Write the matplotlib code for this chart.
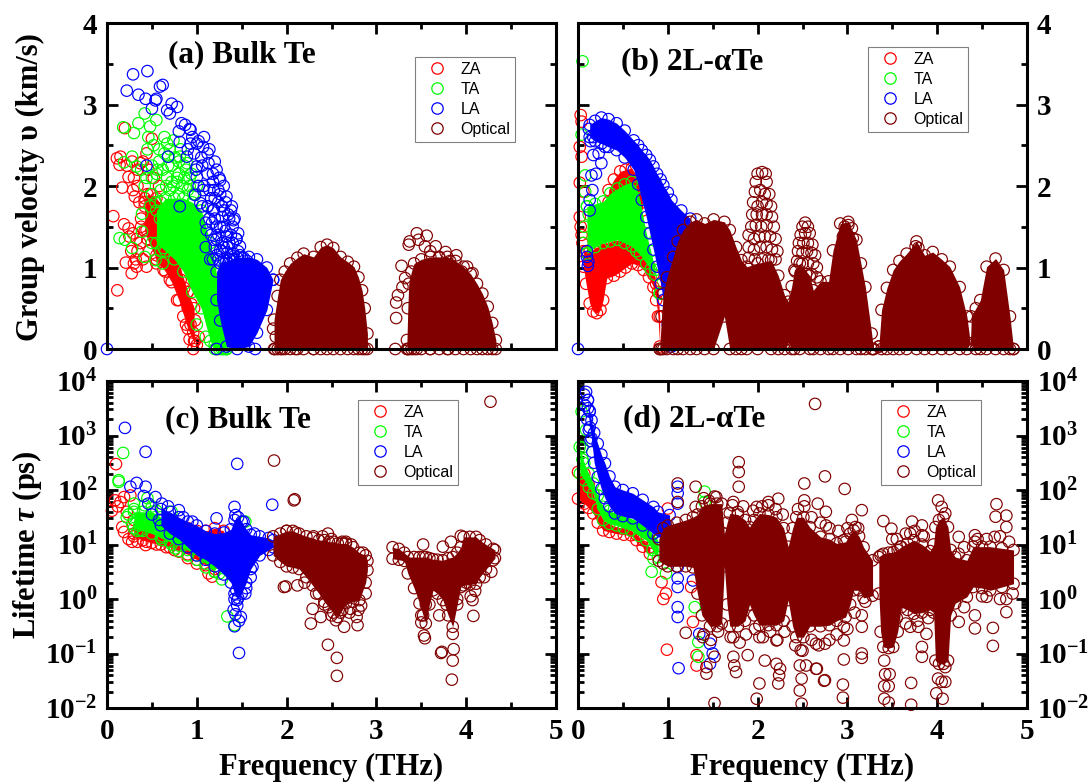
import numpy as np
import matplotlib
matplotlib.use("Agg")
import matplotlib.pyplot as plt
from matplotlib.lines import Line2D

plt.rcParams['font.family'] = ['Liberation Serif', 'DejaVu Serif']
plt.rcParams['font.weight'] = 'bold'
plt.rcParams['mathtext.fontset'] = 'custom'
plt.rcParams['mathtext.bf'] = 'Liberation Serif:bold'
plt.rcParams['mathtext.bfit'] = 'Liberation Serif:italic:bold'
plt.rcParams['mathtext.rm'] = 'Liberation Serif:bold'

RED, GREEN, BLUE, MAROON = '#ff0000', '#00ff00', '#0000ff', '#800000'
W, H = 1089, 782

# ---- panel (a) group velocity, bulk Te: loose circles ----
a_za_f = [.115, .275, .21, .07, .19, .24, .29, .11, .15, .14, .2, .17, .24, .29, .31, .5, .44, .37, .33, .44, .55, .63, .37, .44,
          .3, .34, .4, .46, .52, .58, .36, .42, .48, .54, .6, .66, .34, .4, .47, .55, .62, .7, .78, .85, .9, .93, .96, .98, 1.0, 1.22, .96,
          .27, .33, .38, .22, .28, .34, .3, .38, .25, .32, .42, .9, .94, .88, .98, 1.02, .92, .86, .82, .76]
a_za_v = [.72, .93, 1.06, 1.63, 1.53, 1.48, 1.42, 2.34, 2.36, 2.26, 2.71, 1.98, 2.11, 1.95, 1.87, 2.58, 2.4, 2.28, 1.01, 1.01, 1.05, .97, 1.3, 1.46,
          2.1, 2.0, 2.3, 2.2, 2.1, 2.0, 1.8, 1.85, 1.9, 1.8, 1.7, 1.6, 1.2, 1.1, 1.2, 1.15, 1.1, .85, .6, .4, .5, .3, .2, .1, .05, 0, 0,
          1.2, 1.35, 1.5, 2.25, 2.3, 2.2, 1.05, 1.6, 1.38, 1.1, 1.75, .7, .55, .3, .35, .15, .12, .75, .85, .95]
a_za_band_f = [.42, .45, .55, .65, .72, .8, .9, .97]
a_za_band_lo = [1.45, 1.35, 1.1, .95, .82, .6, .25, .1]
a_za_band_hi = [1.8, 1.9, 1.85, 1.7, 1.35, 1.05, .7, .5]

a_ta_f = [.18, .3, .35, .42, .48, .55, .19, .28, .33, .68, .14, .2, .28, .39, .39, .5, .59, .63, .42, .54, .67, .74, .81, .89,
          .55, .67, .78, .45, .5, .58, .64, .72, .8, .86, .92, .6, .7, .8, .42, .5, .6, .62, 1.0, 1.1, 1.2, 1.28, 1.33,
          .38, .46, .52, .58, .64, .7, .76, .82, .88, .94, 1.0, .44, .5, .56, .62, .68, .74, .8, .86, .92, .98, .48, .54, .6, .66, .72, .78, .84, .9, .96]
a_ta_v = [2.72, 2.65, 2.77, 2.89, 2.73, 2.81, 2.29, 2.36, 2.24, 2.36, 1.36, 1.34, 1.24, 1.66, 1.44, 1.3, 1.6, 1.24, 1.13, 1.09, 2.52, 2.56, 2.36, 2.28,
          2.15, 2.1, 2.05, 2.45, 2.25, 2.3, 2.4, 2.25, 2.15, 2.1, 2.0, 1.95, 1.95, 1.9, 2.0, 1.9, 1.2, 1.05, .3, .15, .05, 0, 0,
          2.2, 2.6, 2.5, 2.45, 2.6, 2.45, 2.35, 2.45, 2.2, 2.15, 2.0, 2.1, 2.1, 2.2, 2.2, 2.25, 2.0, 2.3, 2.25, 2.1, 1.9, 1.75, 1.8, 1.8, 2.0, 2.05, 2.1, 2.0, 1.95, 1.9]
a_ta_band_f = [.55, .65, .75, .85, .95, 1.05, 1.15, 1.2, 1.25, 1.3, 1.33]
a_ta_band_lo = [1.3, 1.2, 1.1, .95, .7, .5, .1, 0, 0, 0, 0]
a_ta_band_hi = [1.7, 1.85, 1.85, 1.85, 1.8, 1.7, 1.3, 1.05, .7, .3, 0]

a_la_f = [0, .29, .45, .22, .35, .43, .54, .59, .62, .55, .5, .67, .72, .78, .7, .83, .87, .93, .8, .81, .93, 1.0, 1.07, .89, 1.0, 1.13, 1.22, 1.26, 1.0, 1.07,
          1.19, 1.33, .98, 1.04, 1.39, 1.19, 1.28, 1.41, 1.46, 1.11, 1.22, 1.19, 1.33, 1.48, 1.41, 1.26, .44, .68, .81, 1.22, 1.65,
          .9, .97, 1.05, 1.12, 1.18, 1.25, 1.3, 1.12, 1.16, 1.28, 1.35, 1.4, 1.1, 1.17, 1.24, 1.3, 1.36, 1.44, 1.2, 1.3, 1.38, 1.5, 1.1, 1.15, 1.35,
          .95, 1.02, 1.08, 1.14, 1.2, .92, .99, 1.06, 1.12, 1.18, 1.24, 1.02, 1.08, 1.14, 1.2, 1.26, 1.32, 1.38, 1.06, 1.12, 1.18, 1.24, 1.3, 1.36, 1.42, 1.14, 1.2, 1.26, 1.32, 1.38, 1.44,
          1.16, 1.22, 1.28, 1.34, 1.4, 1.46, 1.22, 1.28, 1.34, 1.4, 1.18, 1.24, 1.3, 1.36, 1.42, 1.48, 1.52, 1.56]
a_la_v = [0, 3.37, 3.41, 3.17, 3.12, 3.07, 3.05, 3.22, 3.24, 3.07, 2.95, 2.93, 3.01, 2.97, 2.89, 2.77, 2.75, 2.69, 2.67, 2.54, 2.52, 2.52, 2.48, 2.36, 2.24, 2.28, 2.2, 2.07, 2.11, 1.95,
          1.95, 1.87, 1.89, 1.79, 1.75, 1.71, 1.62, 1.58, 1.42, 1.46, 1.5, 1.34, 1.38, 1.26, 1.17, 1.21, 2.25, 2.36, 1.75, 0, 0,
          2.45, 2.4, 2.35, 2.4, 2.15, 2.1, 2.0, 1.75, 1.85, 1.75, 1.65, 1.5, 1.55, 1.55, 1.4, 1.5, 1.3, 1.35, 1.25, 1.25, 1.15, 1.12, 1.25, 1.1, 1.05,
          2.6, 2.55, 2.6, 2.45, 2.3, 2.7, 2.2, 2.25, 2.15, 2.05, 1.95, 2.0, 2.0, 1.95, 1.85, 1.9, 1.8, 1.7, 1.75, 1.75, 1.7, 1.8, 1.7, 1.6, 1.6, 1.6, 1.6, 1.5, 1.45, 1.4, 1.35,
          1.4, 1.35, 1.3, 1.25, 1.3, 1.2, 1.15, 1.2, 1.18, 1.1, 1.1, 1.1, 1.1, 1.1, 1.1, 1.15, 1.12, 1.08]
a_la_band_f = [1.22, 1.26, 1.33, 1.45, 1.58, 1.67, 1.78, 1.85]
a_la_band_lo = [.6, .35, .03, 0, .03, .2, .48, .85]
a_la_band_hi = [.95, 1.05, 1.08, 1.12, 1.13, 1.1, 1.0, .85]

a_opt_f = [3.21, 3.22, 3.22, 3.24, 3.29, 3.32, 3.28, 3.36, 3.37, 3.45, 3.47, 3.56, 3.54, 3.66, 3.77, 3.89, 4.01, 4.07, 1.87, 3.45, 3.6, 3.8, 1.95, 2.1, 2.3, 1.85, 1.88, 3.6, 3.7, 3.82, 3.95]
a_opt_v = [0, .38, .57, .66, .76, .87, 1.02, 1.28, 1.32, 1.42, 1.34, 1.39, 1.26, 1.26, 1.19, 1.15, 1.01, .93, 0, 0, 0, 0, 0, 0, 0, .25, .15, 1.2, 1.12, 1.08, .95]
a_opt1_f = [1.86, 1.9, 1.93, 1.98, 2.04, 2.12, 2.19, 2.3, 2.38, 2.45, 2.52, 2.6, 2.68, 2.75, 2.8, 2.84, 2.87, 2.9]
a_opt1_hi = [.36, .65, .85, .95, 1.05, 1.12, 1.17, 1.13, 1.25, 1.28, 1.24, 1.13, 1.07, 1.01, .88, .72, .5, .19]
a_opt2_f = [3.34, 3.35, 3.36, 3.39, 3.42, 3.5, 3.6, 3.7, 3.79, 3.88, 3.97, 4.05, 4.12, 4.18, 4.24, 4.29, 4.33]
a_opt2_hi = [.11, .5, .8, .95, 1.05, 1.1, 1.13, 1.13, 1.13, 1.08, 1.01, .92, .8, .68, .52, .32, .11]

# ---- panel (b) group velocity, 2L-aTe ----
b_za_f = [.03, .04, .02, .04, .02, .06, .02, .03, .04, .05]
b_za_v = [2.87, 2.79, 2.48, 2.36, 2.04, 1.93, 1.62, 1.5, 1.4, 1.3]
b_za_up_f = [.34, .4, .47, .53, .6, .67, .72]
b_za_up_lo = [1.8, 1.85, 1.95, 1.98, 1.98, 1.8, 1.7]
b_za_up_hi = [1.95, 2.08, 2.18, 2.2, 2.22, 2.07, 1.8]
b_za_dn_f = [.06, .09, .13, .17, .21, .25, .28, .32, .4, .47, .53, .6, .67, .73, .79, .84, .87, .89, .91]
b_za_dn_lo = [1.01, .8, .56, .46, .44, .48, .6, .87, .9, .95, 1.0, 1.05, 1.03, .97, .88, .76, .6, .4, .03]
b_za_dn_hi = [1.2, 1.2, 1.2, 1.22, 1.25, 1.28, 1.3, 1.3, 1.33, 1.34, 1.3, 1.26, 1.2, 1.12, 1.02, .91, .8, .7, .4]

b_ta_f = [.05, .04, .08, .08, .1, .12, .07, .06]
b_ta_v = [3.53, 2.63, 2.13, 1.93, 1.75, 1.65, 1.5, 1.3]
b_ta_band_f = [.1, .19, .28, .36, .44, .52, .6, .65, .69, .76, .81, .86, .91]
b_ta_band_lo = [1.17, 1.25, 1.3, 1.32, 1.34, 1.3, 1.26, 1.2, 1.16, 1.05, .98, .91, .68]
b_ta_band_hi = [1.75, 1.78, 1.81, 1.91, 1.97, 2.02, 2.05, 1.98, 1.83, 1.42, 1.2, .97, .68]

b_la_f = [0, .115, .1, .11, .13, .13, .16, .2, .15, .26, .17, .23, .17, .3, .12, .14, .1]
b_la_v = [0, 1.07, 1.13, 1.02, 1.7, 1.83, 1.95, 2.15, 2.13, 2.28, 2.38, 2.4, 2.6, 2.48, 2.7, 2.55, 1.2]
b_la_band_f = [.13, .19, .26, .34, .43, .52, .62, .67, .71, .76, .8, .84, .88, .92, .95, 1.0, 1.04, 1.15, 1.25]
b_la_band_lo = [2.6, 2.55, 2.52, 2.48, 2.44, 2.35, 2.2, 2.02, 1.83, 1.62, 1.42, 1.22, 1.01, .8, .6, .3, .03, .8, 1.2]
b_la_band_hi = [2.75, 2.8, 2.84, 2.82, 2.77, 2.68, 2.56, 2.5, 2.44, 2.38, 2.32, 2.24, 2.15, 2.08, 2.01, 1.92, 1.83, 1.7, 1.6]

b_opt_f = [2.0, 2.05, 2.09, 1.98, 2.1, 1.97, 2.03, 2.08, 2.13, 1.95, 2.0, 2.05, 2.1, 2.15, 1.94, 1.99, 2.05, 2.1, 2.16, 1.93, 1.98, 2.04, 2.1, 2.18,
           1.9, 1.96, 2.02, 2.08, 2.14, 2.2, 1.9, 1.96, 2.03, 2.1, 2.16, 2.22, 1.9, 1.97, 2.05, 2.12, 2.2,
           2.53, 2.5, 2.56, 2.48, 2.53, 2.58, 2.46, 2.51, 2.56, 2.61, 2.45, 2.5, 2.55, 2.6, 2.64, 2.44, 2.5, 2.56, 2.62, 2.66, 2.42, 2.48, 2.54, 2.6, 2.66,
           2.97, 3.01, 3.05, 2.95, 3.0, 3.06, 3.76, 3.79]
b_opt_v = [2.15, 2.17, 2.15, 2.05, 2.05, 1.93, 1.95, 1.9, 1.9, 1.8, 1.75, 1.8, 1.78, 1.75, 1.65, 1.65, 1.65, 1.65, 1.62, 1.5, 1.52, 1.5, 1.52, 1.5,
           1.4, 1.35, 1.38, 1.38, 1.38, 1.35, 1.25, 1.22, 1.25, 1.25, 1.22, 1.2, 1.12, 1.1, 1.1, 1.1, 1.1,
           1.55, 1.5, 1.5, 1.4, 1.42, 1.42, 1.3, 1.3, 1.3, 1.28, 1.2, 1.18, 1.2, 1.18, 1.15, 1.08, 1.05, 1.05, 1.05, 1.0, .95, .92, .92, .92, .88,
           1.5, 1.52, 1.48, 1.38, 1.4, 1.36, 1.26, 1.24]
b_opt_band_f = [.91, .93, .95, .99, 1.06, 1.11, 1.17, 1.25, 1.32, 1.41, 1.51, 1.63, 1.69, 1.76, 1.82, 1.88, 2.0, 2.15, 2.23, 2.3, 2.34, 2.38, 2.41, 2.47, 2.58, 2.62, 2.7, 2.79, 2.84, 2.92, 3.01, 3.1, 3.15, 3.2, 3.27, 3.29,
                3.35, 3.38, 3.44, 3.51, 3.58, 3.66, 3.77, 3.86, 3.95, 4.05, 4.14, 4.25, 4.33, 4.37, 4.38, 4.43, 4.48, 4.55, 4.65, 4.74, 4.81, 4.85]
b_opt_band_hi = [0, .4, .68, .88, 1.13, 1.32, 1.46, 1.56, 1.59, 1.54, 1.59, 1.56, 1.46, 1.25, 1.09, 1.01, 1.05, 1.09, .9, .66, .58, .77, .97, 1.05, .9, .72, .83, .83, 1.21, 1.54, 1.56, 1.34, 1.05, .76, .19, 0,
                 .03, .48, .75, .97, 1.08, 1.17, 1.32, 1.15, 1.19, 1.1, 1.01, .76, .4, .07, .4, .5, .6, 1.01, 1.11, .97, .4, 0]
b_opt_band_lo = [0, 0, 0, 0, 0, 0, 0, 0, 0, 0, 0, .4, 0, 0, 0, 0, 0, 0, 0, 0, .08, 0, 0, 0, 0, 0, 0, 0, 0, 0, 0, 0, 0, 0, 0, 0,
                 .03, 0, 0, 0, 0, 0, 0, 0, 0, 0, 0, 0, 0, .07, .05, 0, 0, 0, 0, 0, 0, 0]

# ---- panel (c) lifetime, bulk Te (log10 of ps) ----
c_za_f = [.1, .055, .09, .15, .19, .26, .17, .19, .28, .43, .61, .8, 1.13, 1.17, .22, .3, .36, .12, .24, .34, .44, .55, .66, .75, .9, 1.0]
c_za_t = [2.475, 1.62, 1.81, 1.78, 1.87, 1.9, 1.32, 1.23, 1.05, .99, 1.08, .87, .47, .41, 1.6, 1.2, 1.3, 1.7, 1.1, 1.05, 1.05, 1.0, .95, .9, .75, .65]
c_za_band_f = [.3, .4, .5, .6, .7, .8, .9, 1.0, 1.1, 1.2, 1.3]
c_za_band_lo = [1.15, 1.08, 1.03, 1.0, .95, .88, .82, .72, .62, .55, 1.1]
c_za_band_hi = [1.45, 1.42, 1.4, 1.35, 1.3, 1.3, 1.3, 1.25, 1.25, 1.3, 1.25]

c_ta_f = [.18, .13, .13, .22, .37, .61, .76, 1.25, 1.28, 1.34, 1.42, 1.54, .3, .45, .72, .24, .3, .36, .42, .5, .28, .34, .4, .55, .62, .72, .8, .9, 1.0, 1.1, 1.2]
c_ta_t = [2.68, 2.18, 2.15, 1.5, 1.26, 1.08, .93, .47, .36, -.32, -.48, 1.42, 1.75, 1.85, 1.6, 1.55, 1.65, 1.35, 1.72, 1.7, 1.38, 1.25, 1.45, 1.62, 1.15, 1.0, .88, .8, .72, .58, .5]
c_ta_band_f = [.3, .4, .5, .6, .7, .8, .9, 1.0, 1.1, 1.2]
c_ta_band_lo = [1.3, 1.25, 1.2, 1.12, 1.05, .98, .9, .8, .65, .5]
c_ta_band_hi = [1.6, 1.6, 1.6, 1.5, 1.45, 1.35, 1.25, 1.1, .95, .8]

c_la_f = [.2, .43, .33, .26, .43, .41, .54, .46, .61, .8, 1.22, 1.45, 1.42, 1.43, 1.84, 1.47, 1.42, 1.49, 1.41, 1.45, 1.44, 1.54, 1.62, 1.64, 1.45, 1.43, 1.47, 1.42, .5, .58, .68, .75, .85, .95, 1.52, 1.36, 1.6, 1.55, 1.4]
c_la_t = [3.14, 2.7, 2.13, 2.06, 2.06, 1.89, 1.87, 1.75, 1.75, 1.63, 1.48, 2.48, 1.69, 1.54, 1.73, -.99, -.5, -.33, -.2, -.02, .16, .1, .59, 1.2, -.12, -.28, -.4, .0, 1.55, 1.45, 1.7, 1.3, 1.5, 1.42, 1.42, 1.1, .4, .2, .85]
c_la_band_f = [.6, .7, .8, .9, 1.0, 1.1, 1.2, 1.3, 1.38, 1.42, 1.46, 1.5, 1.55, 1.6, 1.7, 1.8, 1.85]
c_la_band_lo = [1.35, 1.2, 1.1, .95, .8, .72, .6, .45, .3, .1, .02, .1, .3, .55, .8, .9, .95]
c_la_band_hi = [1.65, 1.6, 1.5, 1.42, 1.35, 1.25, 1.2, 1.22, 1.28, 1.45, 1.5, 1.42, 1.28, 1.18, 1.15, 1.12, 1.08]

c_opt_f = [1.99, 2.08, 1.86, 2.09, 1.97, 2.12, 2.27, 2.29, 2.38, 2.46, 2.56, 2.56, 2.64, 2.79, 2.83, 2.71, 2.46, 2.66, 2.55, 2.78,
           4.27, 3.52, 3.83, 3.94, 3.74, 4.07, 4.08, 3.53, 3.54, 3.73, 3.72, 3.86, 3.85, 3.84, 3.5, 3.85,
           2.2, 2.33, 2.42, 2.5, 2.6, 2.7, 2.8, 2.88, 2.0, 2.1, 2.3, 2.4, 2.5, 2.62, 2.72, 2.85, 3.5, 3.55, 3.6, 3.7, 3.78, 3.9, 4.0, 4.05, 4.1, 4.2, 4.28]
c_opt_t = [.23, 1.81, 2.54, 1.83, .22, .25, -.45, -.18, -.33, -.84, -1.08, -1.41, -.51, -.48, -.12, -.18, 1.2, 1.05, -.39, -.33,
           3.62, 1.0, 1.05, 1.16, .96, -.02, -.31, -.67, -.72, -.97, -.99, -.92, -1.13, -1.48, -.43, -.64,
           .3, .1, -.1, -.3, -.25, -.25, -.2, .1, 1.25, 1.22, 1.15, 1.15, 1.1, 1.05, 1.0, .85, -.3, -.1, .3, -.3, -.1, .0, .3, .05, .15, .4, .5]
c_opt_band_f = [1.85, 1.93, 2.0, 2.07, 2.14, 2.22, 2.29, 2.36, 2.42, 2.47, 2.52, 2.57, 2.62, 2.66, 2.74, 2.81, 2.88, 2.9]
c_opt_band_lo = [.8, .68, .6, .58, .55, .4, .25, .1, -.05, -.15, -.25, -.33, -.2, -.08, -.05, -.02, .3, .53]
c_opt_band_hi = [1.15, 1.2, 1.25, 1.25, 1.2, 1.15, 1.12, 1.08, 1.08, 1.05, 1.05, 1.02, 1.02, 1.02, .95, .85, .8, .7]
c_opt2_band_f = [3.18, 3.25, 3.31, 3.35, 3.42, 3.48, 3.52, 3.55, 3.59, 3.63, 3.68, 3.74, 3.8, 3.85, 3.9, 3.94, 3.97, 4.04, 4.11, 4.15, 4.22, 4.3, 4.32]
c_opt2_band_lo = [.74, .72, .7, .47, .2, -.08, -.3, -.45, -.1, .16, .1, -.02, -.3, -.51, -.1, .22, .25, .27, .28, .4, .55, .71, .75]
c_opt2_band_hi = [.95, .92, .85, .77, .77, .77, .77, .77, .75, .73, .72, .71, .75, .77, .85, .95, 1.14, 1.14, 1.14, 1.08, 1.0, .92, .9]

# ---- panel (d) lifetime, 2L-aTe (log10 of ps) ----
d_za_f = [.99, .95, .98, .93, 1.0, 1.32, 1.32, 1.28, 1.26]
d_za_t = [-.93, .0, .1, .31, 1.66, -1.22, -1.03, -.42, .22]
d_za_band_f = [0, .07, .12, .17, .22, .28, .35, .43, .51, .59, .65, .72, .8]
d_za_band_lo = [1.84, 1.75, 1.67, 1.57, 1.4, 1.26, 1.23, 1.2, 1.18, 1.17, 1.08, .96, .83]
d_za_band_hi = [2.33, 2.3, 2.1, 1.94, 1.65, 1.45, 1.38, 1.32, 1.3, 1.26, 1.18, 1.08, .95]

d_ta_f = [.04, .09, .05, .05, .82, .84, .98, 1.41, 1.41, 1.34, 1.34, 1.3]
d_ta_t = [3.44, 3.1, 2.78, 2.56, .5, .74, .47, 1.97, 1.78, -1.06, -.79, -.15]
d_ta_band_f = [.02, .07, .12, .17, .22, .28, .35, .43, .51, .59, .68, .76, .83, .89]
d_ta_band_lo = [2.3, 2.18, 2.05, 1.94, 1.65, 1.45, 1.38, 1.35, 1.3, 1.26, 1.16, 1.08, .9, .77]
d_ta_band_hi = [2.79, 2.49, 2.3, 2.12, 1.9, 1.69, 1.62, 1.57, 1.52, 1.48, 1.4, 1.32, 1.2, 1.08]

d_la_f = [.09, .11, .13, 1.11, 1.11, 1.11, 1.11, 1.11, 1.11, 1.11, 1.11, 1.12, .97, 1.47, 1.5, 1.47, 1.35, 1.28, .07, .08, .1, .12, .14, .16]
d_la_t = [3.8, 3.65, 3.44, 2.06, 1.94, 1.75, .22, .38, .59, -.15, -.33, -1.27, 1.37, -1.19, -1.0, -.82, -.64, .34, 3.75, 3.55, 3.3, 3.1, 2.9, 2.7]
d_la_band_f = [.11, .13, .15, .18, .22, .26, .3, .35, .41, .5, .61, .72, .84, .89, 1.02]
d_la_band_lo = [3.5, 3.15, 2.95, 2.5, 2.24, 2.02, 1.85, 1.7, 1.57, 1.52, 1.48, 1.35, 1.2, 1.14, 1.1]
d_la_band_hi = [3.65, 3.45, 3.28, 3.05, 2.85, 2.65, 2.49, 2.25, 2.06, 2.0, 1.94, 1.82, 1.69, 1.6, 1.54]

d_opt_f = [2.64, 1.79, 1.79, 1.79, 2.75, 2.52, 2.52, 2.67, 2.23, 2.12, 1.99, 1.73, 1.31, 1.31, 1.11, 1.11, 1.54,
           1.2, 1.43, 1.52, 1.43, 1.39, 1.52, 1.73, 1.76, 1.74, 1.89, 1.99, 2.02, 2.08, 2.21, 2.24, 2.23, 2.25, 2.49, 2.47, 2.49, 2.47, 2.54, 2.48, 2.65, 2.75, 2.65, 1.73, 2.02, 2.21,
           2.97, 3.16, 2.76, 2.76, 3.09, 2.96, 2.66, 2.74, 2.96, 2.95, 2.95, 3.16, 3.16, 3.16, 3.16, 2.96, 2.96, 2.75,
           3.4, 3.49, 3.5, 3.59, 3.72, 3.7, 3.83, 3.83, 4.01, 4.05, 4.09, 4.24, 4.24, 4.42, 4.42, 4.66, 4.65, 4.77, 4.77, 4.64,
           3.41, 3.42, 3.47, 3.41, 3.46, 3.41, 3.46, 3.71, 3.71, 3.83, 3.83, 3.88, 3.7, 3.79, 3.99, 4.06, 4.05, 4.01, 4.09, 4.09, 4.42, 4.42, 4.62, 4.62, 4.24, 4.77, 4.55, 4.77,
           1.4, 1.46, 1.52, 1.72, 1.78, 1.84, 1.95, 2.05, 2.12, 2.2, 2.28, 2.45, 2.52, 2.6, 2.7, 2.8, 2.9, 3.0, 3.05, 3.12, 3.55, 3.65, 3.75, 3.85, 4.3, 4.45, 4.55, 4.7, 4.8,
           1.4, 1.48, 1.56, 1.7, 1.8, 1.87, 1.97, 2.06, 2.14, 2.22, 2.3, 2.42, 2.5, 2.6, 2.68, 2.8, 2.88, 3.0, 3.08, 3.2, 3.55, 3.65, 3.78, 3.9, 4.3, 4.5, 4.7, 4.84]
d_opt_t = [3.58, 2.51, 2.33, 2.06, 2.25, 2.12, 1.81, 1.75, 1.84, 1.78, 1.69, 1.78, 2.06, 1.69, 2.12, 1.78, 1.87,
           -.62, -1.37, -1.91, -1.25, -.7, -1.06, -1.06, -1.34, -1.22, -1.03, -1.83, -1.55, -1.13, -1.19, -1.4, -1.55, -1.28, -1.92, -1.68, -1.46, -1.22, -1.22, -.94, -1.28, -1.49, -.82, -.7, -.7, -.76,
           2.02, 1.63, 1.6, 1.35, 1.32, 1.08, -1.28, -1.5, -1.11, -1.57, -1.81, -1.0, -1.08, -.51, -.3, -.51, -.76, -.82,
           1.43, 1.29, 1.1, .96, 1.42, 1.2, 1.35, 1.17, 1.81, 1.69, 1.57, 1.14, .83, 1.17, 1.05, 1.74, 1.51, 1.53, 1.32, 1.14,
           -1.13, -1.38, -1.38, -1.6, -1.6, -1.83, -1.9, -1.54, -1.94, -.88, -1.06, -.64, -.51, -.51, -1.73, -1.83, -1.52, -1.46, -1.52, -1.25, -.3, -.54, -.53, -.86, -.42, -.24, .04, .0,
           1.85, 1.8, 1.88, 1.72, 1.6, 1.7, 1.62, 1.7, 1.72, 1.65, 1.55, 1.65, 1.7, 1.5, 1.4, 1.3, 1.25, 1.3, 1.45, 1.3, 1.1, 1.2, 1.25, 1.15, .95, 1.1, 1.1, 1.15, 1.05,
           -.65, -.75, -.6, -.7, -.8, -.65, -.55, -.7, -.6, -.75, -.6, -.85, -.95, -.75, -.85, -.75, -.65, -.55, -.25, -.05, -.35, -.45, -.4, -.35, -.15, .05, .0, .1]
d_opt_band_f = [.9, .95, 1.0, 1.1, 1.2, 1.28, 1.33, 1.38, 1.47, 1.55, 1.6, 1.63, 1.66, 1.69, 1.78, 1.86, 1.91, 1.96, 2.02, 2.12, 2.21, 2.29, 2.34, 2.39, 2.43, 2.51, 2.58, 2.7, 2.8, 2.88, 2.98, 3.03, 3.07, 3.13, 3.18, 3.28]
d_opt_band_lo = [.7, .65, .6, .6, .6, .58, .1, -.3, -.5, -.5, -.45, .6, -.1, -.5, -.5, -.4, -.1, -.3, -.48, -.48, -.48, -.4, -.02, -.5, -.7, -.7, -.5, -.5, -.48, -.4, -.33, -.1, .16, .16, .02, .06]
d_opt_band_hi = [1.1, 1.3, 1.35, 1.4, 1.45, 1.5, 1.55, 1.7, 1.75, 1.75, 1.75, 1.2, 1.4, 1.57, 1.55, 1.45, 1.32, 1.45, 1.57, 1.55, 1.5, 1.3, .96, 1.3, 1.5, 1.5, 1.32, 1.14, 1.1, 1.02, 1.05, 1.2, 1.26, 1.15, .95, .71]
d_opt2_band_f = [3.35, 3.37, 3.4, 3.46, 3.51, 3.56, 3.6, 3.67, 3.74, 3.83, 3.92, 3.96, 3.98, 4.02, 4.07, 4.12, 4.15, 4.2, 4.33, 4.4, 4.5, 4.59, 4.72, 4.85]
d_opt2_band_lo = [.1, -.6, -.88, -.9, -.88, -.6, -.15, -.2, -.27, -.25, -.2, -.25, -1.13, -1.19, -1.19, -1.13, -.3, -.08, .04, .22, .2, .16, .22, .28]
d_opt2_band_hi = [.77, .8, .83, .85, .86, .9, .96, 1.02, 1.08, 1.0, .88, 1.0, 1.32, 1.45, 1.5, 1.32, .9, .77, .71, .96, .96, .96, .93, .9]

tick_labels_v = ['0', '1', '2', '3', '4']
log_ticks = [-2, -1, 0, 1, 2, 3, 4]
freq_ticks = [0, 1, 2, 3, 4, 5]
legend_names = ['ZA', 'TA', 'LA', 'Optical']
legend_colors = [RED, GREEN, BLUE, MAROON]

MS = 68
LW = 0.85
ZORDER = {RED: 3, GREEN: 4, BLUE: 5, MAROON: 6}


def make_axes(left, right, top, bottom):
    return fig.add_axes([left / W, 1 - bottom / H, (right - left) / W, (bottom - top) / H])


def circles(ax, f, y, color, log=False):
    y = 10.0 ** np.array(y) if log else np.array(y)
    ax.scatter(f, y, s=MS, facecolors='none', edgecolors=color, linewidths=LW, clip_on=False, zorder=ZORDER[color])


def band(ax, f, lo, hi, color, log=False):
    lo = np.array(lo, dtype=float)
    hi = np.array(hi, dtype=float)
    if log:
        lo, hi = 10.0 ** lo, 10.0 ** hi
    z = ZORDER[color]
    ax.fill_between(f, lo, hi, color=color, linewidth=0, zorder=z, clip_on=False)
    # circles along the edges of the dense cloud
    ax.scatter(f, hi, s=MS, facecolors='none', edgecolors=color, linewidths=LW, clip_on=False, zorder=z)
    ax.scatter(f, lo, s=MS, facecolors='none', edgecolors=color, linewidths=LW, clip_on=False, zorder=z)


def style_axes(ax, log=False, right_labels=False, x_labels=False):
    ax.set_xlim(0, 5)
    ax.set_xticks(freq_ticks)
    ax.set_xticks([0.5, 1.5, 2.5, 3.5, 4.5], minor=True)
    if log:
        ax.set_yscale('log')
        ax.set_ylim(1e-2, 1e4)
        ax.set_yticks([10.0 ** p for p in log_ticks])
        ax.set_yticklabels([r'$\mathbf{10^{%d}}$' % p for p in log_ticks])
        ax.set_yticks([m * 10.0 ** p for p in log_ticks[:-1] for m in range(2, 10)], minor=True)
        ax.set_yticklabels([], minor=True)
    else:
        ax.set_ylim(0, 4)
        ax.set_yticks(range(5))
        ax.set_yticklabels(tick_labels_v)
        ax.set_yticks([.5, 1.5, 2.5, 3.5], minor=True)
    ax.tick_params(axis='both', which='major', direction='in', length=8, width=2, top=True, right=True,
                   labelsize=21, labelleft=not right_labels, labelright=right_labels, labelbottom=x_labels, pad=7)
    ax.tick_params(axis='both', which='minor', direction='in', length=4.5, width=2, top=True, right=True)
    for s in ax.spines.values():
        s.set_linewidth(2.2)
        s.set_zorder(8)


def add_legend(ax, x0, y0):
    handles = [Line2D([], [], ls='', marker='o', ms=8.2, mfc='none', mec=c, mew=0.9, label=n)
               for n, c in zip(legend_names, legend_colors)]
    leg = ax.legend(handles=handles, loc='upper left', bbox_to_anchor=(x0, y0), bbox_transform=fig.transFigure,
                    prop={'family': 'Liberation Sans', 'size': 11.5, 'weight': 'normal'}, frameon=True, fancybox=False,
                    edgecolor='#808080', framealpha=1, labelspacing=0.3, handletextpad=0.35, borderpad=0.3,
                    borderaxespad=0, handlelength=2.2, handleheight=0.9)
    leg.get_frame().set_linewidth(0.8)
    leg.set_zorder(10)


fig = plt.figure(figsize=(W / 100, H / 100), dpi=100)

ax_a = make_axes(107, 556, 23, 349)
ax_b = make_axes(578, 1027, 23, 349)
ax_c = make_axes(107, 556, 381, 708)
ax_d = make_axes(578, 1027, 381, 708)

circles(ax_a, a_za_f, a_za_v, RED)
band(ax_a, a_za_band_f, a_za_band_lo, a_za_band_hi, RED)
circles(ax_a, a_ta_f, a_ta_v, GREEN)
band(ax_a, a_ta_band_f, a_ta_band_lo, a_ta_band_hi, GREEN)
circles(ax_a, a_la_f, a_la_v, BLUE)
band(ax_a, a_la_band_f, a_la_band_lo, a_la_band_hi, BLUE)
circles(ax_a, a_opt_f, a_opt_v, MAROON)
band(ax_a, a_opt1_f, np.zeros(len(a_opt1_f)), a_opt1_hi, MAROON)
band(ax_a, a_opt2_f, np.zeros(len(a_opt2_f)), a_opt2_hi, MAROON)

circles(ax_b, b_za_f, b_za_v, RED)
band(ax_b, b_za_up_f, b_za_up_lo, b_za_up_hi, RED)
band(ax_b, b_za_dn_f, b_za_dn_lo, b_za_dn_hi, RED)
circles(ax_b, b_ta_f, b_ta_v, GREEN)
band(ax_b, b_ta_band_f, b_ta_band_lo, b_ta_band_hi, GREEN)
circles(ax_b, b_la_f, b_la_v, BLUE)
band(ax_b, b_la_band_f, b_la_band_lo, b_la_band_hi, BLUE)
circles(ax_b, b_opt_f, b_opt_v, MAROON)
band(ax_b, b_opt_band_f, b_opt_band_lo, b_opt_band_hi, MAROON)

circles(ax_c, c_za_f, c_za_t, RED, log=True)
band(ax_c, c_za_band_f, c_za_band_lo, c_za_band_hi, RED, log=True)
circles(ax_c, c_ta_f, c_ta_t, GREEN, log=True)
band(ax_c, c_ta_band_f, c_ta_band_lo, c_ta_band_hi, GREEN, log=True)
circles(ax_c, c_la_f, c_la_t, BLUE, log=True)
band(ax_c, c_la_band_f, c_la_band_lo, c_la_band_hi, BLUE, log=True)
circles(ax_c, c_opt_f, c_opt_t, MAROON, log=True)
band(ax_c, c_opt_band_f, c_opt_band_lo, c_opt_band_hi, MAROON, log=True)
band(ax_c, c_opt2_band_f, c_opt2_band_lo, c_opt2_band_hi, MAROON, log=True)

circles(ax_d, d_za_f, d_za_t, RED, log=True)
band(ax_d, d_za_band_f, d_za_band_lo, d_za_band_hi, RED, log=True)
circles(ax_d, d_ta_f, d_ta_t, GREEN, log=True)
band(ax_d, d_ta_band_f, d_ta_band_lo, d_ta_band_hi, GREEN, log=True)
circles(ax_d, d_la_f, d_la_t, BLUE, log=True)
band(ax_d, d_la_band_f, d_la_band_lo, d_la_band_hi, BLUE, log=True)
circles(ax_d, d_opt_f, d_opt_t, MAROON, log=True)
band(ax_d, d_opt_band_f, d_opt_band_lo, d_opt_band_hi, MAROON, log=True)
band(ax_d, d_opt2_band_f, d_opt2_band_lo, d_opt2_band_hi, MAROON, log=True)

style_axes(ax_a)
style_axes(ax_b, right_labels=True)
style_axes(ax_c, log=True, x_labels=True)
style_axes(ax_d, log=True, right_labels=True, x_labels=True)

TITLE_SIZE = 22.5
fig.text(168 / W, 1 - 55 / H, '(a) Bulk Te', fontsize=TITLE_SIZE, va='center', ha='left')
fig.text(621 / W, 1 - 62 / H, '(b) 2L-αTe', fontsize=TITLE_SIZE, va='center', ha='left')
fig.text(165 / W, 1 - 420 / H, '(c) Bulk Te', fontsize=TITLE_SIZE, va='center', ha='left')
fig.text(623 / W, 1 - 419 / H, '(d) 2L-αTe', fontsize=TITLE_SIZE, va='center', ha='left')

add_legend(ax_a, 415 / W, 1 - 57 / H)
add_legend(ax_b, 868 / W, 1 - 47 / H)
add_legend(ax_c, 358 / W, 1 - 400 / H)
add_legend(ax_d, 881 / W, 1 - 400 / H)

fig.text(30 / W, 1 - 187 / H, 'Group velocity υ (km/s)', fontsize=22, rotation=90, va='center', ha='center')
fig.text(27 / W, 1 - 545 / H, r'Lifetime $\mathbfit{\tau}$ (ps)', fontsize=22, rotation=90, va='center', ha='center')
fig.text(331 / W, 1 - 767 / H, 'Frequency (THz)', fontsize=22, va='center', ha='center')
fig.text(802 / W, 1 - 767 / H, 'Frequency (THz)', fontsize=22, va='center', ha='center')

fig.savefig('out.png', dpi=100)
